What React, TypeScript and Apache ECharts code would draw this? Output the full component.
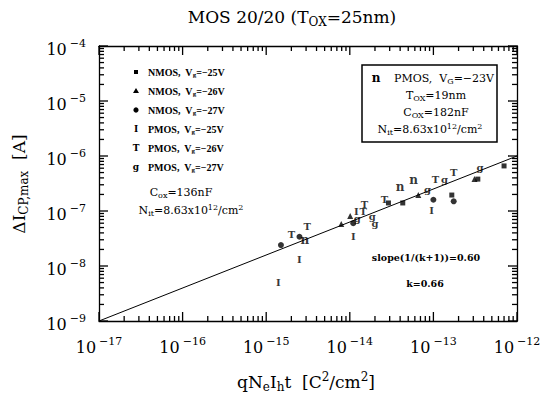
import React, { useEffect, useRef } from "react";
import * as echarts from "echarts";

// ---- axis ranges / ticks ----
const xDecades = [-17, -16, -15, -14, -13, -12];
const yDecades = [-9, -8, -7, -6, -5, -4];
const minorMultipliers = [2, 3, 4, 5, 6, 7, 8, 9];

// ---- data (x: qNeIht [C^2/cm^2], y: ΔIcp,max [A]) ----
const nmos25: number[][] = [[2.9e-14, 1.4e-7], [4.3e-14, 1.4e-7], [1.66e-13, 1.95e-7], [3.4e-13, 3.8e-7], [7.0e-13, 6.6e-7]];
const nmos26: number[][] = [[7.9e-15, 5.8e-8], [1.01e-14, 8.1e-8], [6.6e-14, 1.95e-7], [3.1e-13, 3.8e-7]];
const nmos27: number[][] = [[1.5e-15, 2.4e-8], [2.5e-15, 3.4e-8], [1.1e-14, 6.0e-8], [1.0e-13, 1.6e-7], [1.75e-13, 1.5e-7]];
const pmos25: number[][] = [[1.4e-15, 5.1e-9], [2.5e-15, 1.3e-8], [1.1e-14, 3.4e-8], [1.2e-14, 1.0e-7], [9.5e-14, 1.04e-7]];
const pmos26: number[][] = [[2.0e-15, 3.7e-8], [3.1e-15, 5.3e-8], [1.45e-14, 1.0e-7], [1.5e-14, 1.34e-7], [2.6e-14, 1.65e-7], [1.06e-13, 3.7e-7], [1.75e-13, 5.1e-7]];
const pmos27: number[][] = [[1.23e-14, 7.2e-8], [1.86e-14, 8.1e-8], [2.0e-14, 6.0e-8], [8.5e-14, 2.5e-7], [1.36e-13, 3.7e-7], [3.6e-13, 6.3e-7]];
const pmos23: number[][] = [[2.9e-15, 3.0e-8], [4.0e-14, 2.7e-7], [5.8e-14, 3.7e-7]];
const fitLine: number[][] = [[1e-17, 1e-9], [1e-12, 1e-6]];

// ---- legend texts ----
const legendDevices = ["NMOS", "NMOS", "NMOS", "PMOS", "PMOS", "PMOS"];
const legendVoltages = ["−25V", "−26V", "−27V", "−25V", "−26V", "−27V"];
const legendMarks = ["rect", "triangle", "circle", "I", "T", "g"];

const SERIF = "DejaVu Serif";
const BOLD = "Liberation Serif";

function tickList(decades: number[]) {
  // [value, kind] kind 1 = major decade, 0 = minor
  const out: number[][] = [];
  for (let i = 0; i < decades.length; i++) {
    out.push([Math.pow(10, decades[i]), 1]);
    if (i < decades.length - 1) for (const m of minorMultipliers) out.push([m * Math.pow(10, decades[i]), 0]);
  }
  return out;
}

function expLabel(v: number) {
  const e = Math.round(Math.log10(v));
  return "{b|10}{s|−" + Math.abs(e) + "}";
}

const tickRich = {
  b: { fontFamily: SERIF, fontSize: 16, lineHeight: 22, color: "#000", verticalAlign: "middle" },
  s: { fontFamily: SERIF, fontSize: 11, lineHeight: 10, color: "#000", verticalAlign: "top", padding: [0, 0, 0, 3] },
};

function glyphSeries(name: string, data: number[][], glyph: string, size: number) {
  return {
    name,
    type: "scatter",
    data,
    xAxisIndex: 0,
    yAxisIndex: 0,
    symbol: "circle",
    symbolSize: 1,
    itemStyle: { color: "rgba(0,0,0,0)" },
    z: 5,
    label: {
      show: true,
      position: "inside",
      formatter: glyph,
      fontFamily: SERIF,
      fontWeight: "bold",
      fontSize: size,
      color: "#000",
    },
  };
}

export default function App() {
  const ref = useRef<HTMLDivElement>(null);
  useEffect(() => {
    if (!ref.current) return;
    const chart = echarts.init(ref.current, undefined, { renderer: "svg" });
    const xMin = Math.pow(10, xDecades[0]);
    const xMax = Math.pow(10, xDecades[xDecades.length - 1]);
    const yMin = Math.pow(10, yDecades[0]);
    const yMax = Math.pow(10, yDecades[yDecades.length - 1]);
    const axisLine = { show: true, lineStyle: { color: "#000", width: 1.3 } };

    const xTicks = tickList(xDecades);
    const yTicks = tickList(yDecades);

    const xAx = (position: string) => ({
      type: "log",
      logBase: 10,
      min: xMin,
      max: xMax,
      position,
      axisLine,
      axisTick: { show: false },
      axisLabel: position === "bottom" ? { show: true, formatter: expLabel, margin: 15, rich: tickRich } : { show: false },
      splitLine: { show: false },
    });
    const yAx = (position: string) => ({
      type: "log",
      logBase: 10,
      min: yMin,
      max: yMax,
      position,
      axisLine,
      axisTick: { show: false },
      axisLabel: position === "left" ? { show: true, formatter: expLabel, margin: 13, rich: tickRich, padding: [6, 0, 0, 0] } : { show: false },
      splitLine: { show: false },
    });

    // side: 0 bottom, 1 top, 2 left, 3 right
    const tickSeries = (side: number) => {
      const horizontal = side < 2;
      const data = (horizontal ? xTicks : yTicks).map((t) =>
        horizontal ? [t[0], side === 0 ? yMin : yMax, t[1]] : [side === 2 ? xMin : xMax, t[0], t[1]]
      );
      return {
        type: "custom",
        name: "ticks" + side,
        data,
        xAxisIndex: 0,
        yAxisIndex: 0,
        clip: false,
        z: 3,
        renderItem: (params: any, api: any) => {
          const p = api.coord([api.value(0), api.value(1)]);
          const len = api.value(2) === 1 ? 9 : 5;
          let x2 = p[0], y2 = p[1];
          if (side === 0) y2 = p[1] - len;
          else if (side === 1) y2 = p[1] + len;
          else if (side === 2) x2 = p[0] + len;
          else x2 = p[0] - len;
          return { type: "line", shape: { x1: p[0], y1: p[1], x2, y2 }, style: { stroke: "#000", lineWidth: 1.3 } };
        },
      };
    };

    const legendGraphics: any[] = [];
    const legendY = [72, 91, 110, 129, 148, 167];
    legendDevices.forEach((dev, i) => {
      const y = legendY[i];
      const mk = legendMarks[i];
      if (mk === "rect") legendGraphics.push({ type: "rect", shape: { x: 134, y: y - 2, width: 4, height: 4 }, style: { fill: "#000" } });
      else if (mk === "triangle") legendGraphics.push({ type: "polygon", shape: { points: [[136, y - 3], [139, y + 2], [133, y + 2]] }, style: { fill: "#000" } });
      else if (mk === "circle") legendGraphics.push({ type: "circle", shape: { cx: 136, cy: y, r: 2.6 }, style: { fill: "#000" } });
      else legendGraphics.push({ type: "text", x: 136, y, style: { text: mk, fontFamily: SERIF, fontWeight: "bold", fontSize: 9, fill: "#000", align: "center", verticalAlign: "middle" } });
      legendGraphics.push({
        type: "text",
        x: 148,
        y,
        style: {
          text: "{a|" + dev + ",  V}{s|g}{a|=" + legendVoltages[i] + "}",
          align: "left",
          verticalAlign: "middle",
          rich: {
            a: { fontFamily: BOLD, fontWeight: "bold", fontSize: 10, lineHeight: 12, fill: "#000", verticalAlign: "middle" },
            s: { fontFamily: BOLD, fontWeight: "bold", fontSize: 7, lineHeight: 6, fill: "#000", verticalAlign: "bottom" },
          },
        },
      });
    });

    const r11 = {
      a: { fontFamily: SERIF, fontSize: 11, lineHeight: 14, fill: "#000", verticalAlign: "middle" },
      s: { fontFamily: SERIF, fontSize: 8, lineHeight: 7, fill: "#000", verticalAlign: "bottom" },
      p: { fontFamily: SERIF, fontSize: 8, lineHeight: 7, fill: "#000", verticalAlign: "top" },
    };
    const r17 = {
      a: { fontFamily: SERIF, fontSize: 17, lineHeight: 22, fill: "#000", verticalAlign: "middle" },
      s: { fontFamily: SERIF, fontSize: 12, lineHeight: 10, fill: "#000", verticalAlign: "bottom" },
      p: { fontFamily: SERIF, fontSize: 12, lineHeight: 10, fill: "#000", verticalAlign: "top" },
    };
    const boldSmall = { fontFamily: SERIF, fontWeight: "bold", fontSize: 9.5, fill: "#000", align: "center", verticalAlign: "middle" };

    const graphic: any[] = [
      { type: "text", x: 292, y: 17, style: { text: "{a|MOS 20/20 (T}{s|OX}{a|=25nm)}", align: "center", verticalAlign: "middle", rich: r17 } },
      { type: "text", x: 19, y: 184, rotation: Math.PI / 2, style: { text: "{a|ΔI}{s|CP,max}{a|  [A]}", align: "center", verticalAlign: "middle", rich: r17 } },
      { type: "text", x: 306, y: 382, style: { text: "{a|qN}{s|e}{a|I}{s|h}{a|t  [C}{p|2}{a|/cm}{p|2}{a|]}", align: "center", verticalAlign: "middle", rich: r17 } },
      ...legendGraphics,
      { type: "text", x: 181, y: 192, style: { text: "{a|C}{s|ox}{a|=136nF}", align: "center", verticalAlign: "middle", rich: r11 } },
      { type: "text", x: 191, y: 210, style: { text: "{a|N}{s|it}{a|=8.63x10}{p|12}{a|/cm}{p|2}", align: "center", verticalAlign: "middle", rich: r11 } },
      { type: "rect", z: 10, shape: { x: 362, y: 65, width: 135, height: 77 }, style: { fill: "#fff", stroke: "#000", lineWidth: 1.5 } },
      { type: "text", z: 11, x: 376, y: 78, style: { text: "n", fontFamily: SERIF, fontWeight: "bold", fontSize: 12, fill: "#000", align: "center", verticalAlign: "middle" } },
      { type: "text", z: 11, x: 394, y: 78, style: { text: "{a|PMOS,  V}{s|G}{a|=−23V}", align: "left", verticalAlign: "middle", rich: r11 } },
      { type: "text", z: 11, x: 436, y: 95, style: { text: "{a|T}{s|OX}{a|=19nm}", align: "center", verticalAlign: "middle", rich: r11 } },
      { type: "text", z: 11, x: 436, y: 112, style: { text: "{a|C}{s|OX}{a|=182nF}", align: "center", verticalAlign: "middle", rich: r11 } },
      { type: "text", z: 11, x: 430, y: 129, style: { text: "{a|N}{s|it}{a|=8.63x10}{p|12}{a|/cm}{p|2}", align: "center", verticalAlign: "middle", rich: r11 } },
      { type: "text", x: 426, y: 257, style: { ...boldSmall, text: "slope(1/(k+1))=0.60" } },
      { type: "text", x: 425, y: 283, style: { ...boldSmall, text: "k=0.66" } },
    ];

    chart.setOption({
      animation: false,
      backgroundColor: "#fff",
      grid: { left: 99, top: 46, width: 418, height: 275, containLabel: false },
      xAxis: [xAx("bottom"), xAx("top")],
      yAxis: [yAx("left"), yAx("right")],
      graphic,
      series: [
        tickSeries(0),
        tickSeries(1),
        tickSeries(2),
        tickSeries(3),
        { name: "fit", type: "line", data: fitLine, xAxisIndex: 0, yAxisIndex: 0, symbol: "none", lineStyle: { color: "#000", width: 1 }, z: 2 },
        { name: "NMOS -25V", type: "scatter", data: nmos25, xAxisIndex: 0, yAxisIndex: 0, symbol: "rect", symbolSize: 5, itemStyle: { color: "#000" }, z: 5 },
        { name: "NMOS -26V", type: "scatter", data: nmos26, xAxisIndex: 0, yAxisIndex: 0, symbol: "triangle", symbolSize: 6, itemStyle: { color: "#000" }, z: 5 },
        { name: "NMOS -27V", type: "scatter", data: nmos27, xAxisIndex: 0, yAxisIndex: 0, symbol: "circle", symbolSize: 6, itemStyle: { color: "#000" }, z: 5 },
        glyphSeries("PMOS -25V", pmos25, "I", 10),
        glyphSeries("PMOS -26V", pmos26, "T", 10),
        glyphSeries("PMOS -27V", pmos27, "g", 10),
        glyphSeries("PMOS -23V", pmos23, "n", 12),
      ],
    });
    return () => chart.dispose();
  }, []);
  return <div ref={ref} style={{ position: "fixed", left: 0, top: 0, width: 547, height: 402 }} />;
}
